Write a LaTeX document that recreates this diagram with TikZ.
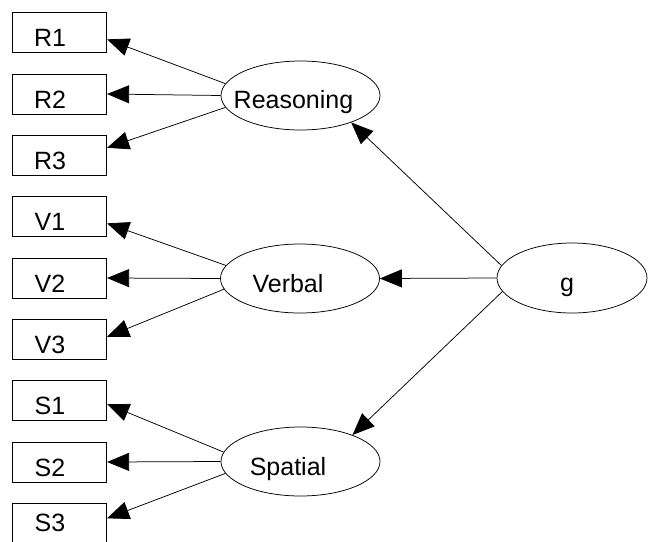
\documentclass[tikz,border=0pt]{standalone}
\usepackage{fontspec}
\setmainfont{Liberation Sans}
\usetikzlibrary{arrows.meta,shapes.geometric}

\tikzset{
    item/.style={draw, rectangle, minimum width=94pt, minimum height=40pt, inner sep=0pt, line width=0.75pt},
    factor/.style={draw, ellipse, minimum width=159pt, minimum height=69pt, inner sep=0pt, line width=0.75pt},
    word/.style={anchor=base, inner sep=0pt, font=\fontsize{25}{29}\selectfont},
    load/.style={line width=0.75pt, -{Triangle[length=22pt, width=18pt]}}
}

\begin{document}
\begin{tikzpicture}[x=1pt, y=-1pt]

    \useasboundingbox (0, 0) rectangle (648, 541);

    % indicators
    \node[item] (R1) at (59.7, 32.7) {};
    \node[word] (R1txt) at (50, 46.7) {R1};
    \node[item] (R2) at (59.7, 94) {};
    \node[word] (R2txt) at (50, 108) {R2};
    \node[item] (R3) at (59.7, 155.3) {};
    \node[word] (R3txt) at (50, 169.3) {R3};

    \node[item] (V1) at (59.7, 216.7) {};
    \node[word] (V1txt) at (50, 230.7) {V1};
    \node[item] (V2) at (59.7, 278) {};
    \node[word] (V2txt) at (50, 292) {V2};
    \node[item] (V3) at (59.7, 339.3) {};
    \node[word] (V3txt) at (50, 353.3) {V3};

    \node[item] (S1) at (59.7, 400.7) {};
    \node[word] (S1txt) at (50, 414.7) {S1};
    \node[item] (S2) at (59.7, 462) {};
    \node[word] (S2txt) at (50, 476) {S2};
    \node[item] (S3) at (59.7, 523.3) {};
    \node[word] (S3txt) at (50, 531) {S3};

    % factors
    \node[factor] (Reasoning) at (300.5, 95.5) {};
    \node[word] (Reasoningtxt) at (293.5, 108.3) {Reasoning};
    \node[factor] (Verbal) at (300, 278.5) {};
    \node[word] (Verbaltxt) at (288, 292.5) {Verbal};
    \node[factor] (Spatial) at (300.5, 461.5) {};
    \node[word] (Spatialtxt) at (288, 475) {Spatial};

    \node[factor, minimum width=150pt, minimum height=70pt] (g) at (572, 278) {};
    \node[word] (gtxt) at (567, 291) {g};

    % loadings
    \draw[load] (Reasoning.171) -- (R1.-8);
    \draw[load] (Reasoning.180) -- (R2.0);
    \draw[load] (Reasoning.189) -- (R3.9);

    \draw[load] (Verbal.170) -- (V1.-8);
    \draw[load] (Verbal.180) -- (V2.0);
    \draw[load] (Verbal.188) -- (V3.3);

    \draw[load] (Spatial.173) -- (S1.-4);
    \draw[load] (Spatial.180) -- (S2.0);
    \draw[load] (Spatial.189) -- (S3.6);

    \draw[load] (g.170) -- (Reasoning.332);
    \draw[load] (g.180) -- (Verbal.0);
    \draw[load] (g.191) -- (Spatial.27);

\end{tikzpicture}
\end{document}
